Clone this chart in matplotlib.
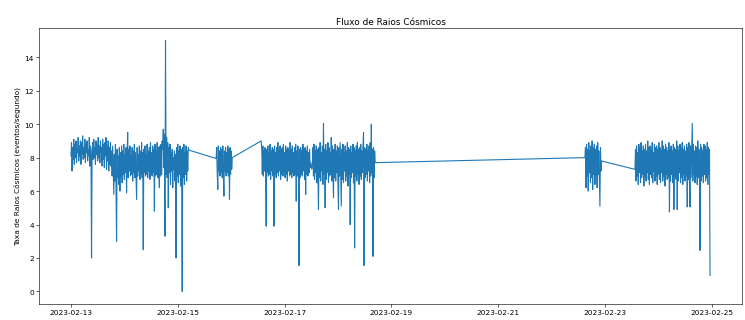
import matplotlib
matplotlib.use("Agg")
import matplotlib.pyplot as plt
import matplotlib.dates as mdates
import pandas as pd

# Detector sampling step and the start of each recording run
sample_step = "15min"
run_starts = [
    "2023-02-13 00:00",
    "2023-02-15 17:15",
    "2023-02-16 13:30",
    "2023-02-22 15:00",
    "2023-02-23 13:30",
]

# Count rates (events/second) for each run, one value per sample
rate_run1 = [
    8.1, 8.9, 7.2, 8.6, 7.9, 9.1, 7.6, 8.8, 8.0, 9.0, 7.7, 8.5, 8.3, 9.2, 7.8, 8.7, 8.1, 9.0, 7.6, 8.9,
    8.2, 9.3, 7.9, 8.6, 8.0, 9.1, 7.7, 8.8, 8.3, 9.0, 7.8, 8.5, 8.1, 9.2, 7.5, 8.7, 8.4, 2.0, 8.2, 8.9,
    7.9, 9.1, 8.0, 8.6, 7.6, 9.0, 8.2, 8.8, 7.8, 9.2, 8.0, 8.7, 7.7, 9.0, 8.3, 8.6, 7.5, 9.1, 7.9, 8.8,
    7.4, 8.9, 8.1, 9.2, 7.3, 8.7, 7.8, 9.0, 7.2, 8.6, 7.6, 8.9, 7.5,
    8.4, 6.9, 8.7, 7.1, 5.8, 8.2, 6.6, 8.8, 6.2, 3.0, 8.5, 6.8, 8.1, 6.4, 8.6, 6.0, 8.3, 6.9, 8.7, 6.5,
    8.4, 7.0, 8.8, 6.7, 8.2, 7.1, 8.6, 5.9, 8.3, 9.5, 6.8, 8.5, 7.2, 8.7, 6.9, 8.1, 7.0, 8.6, 6.6, 8.4,
    7.1, 8.8, 6.8, 8.3, 7.0, 5.5, 8.6, 6.9, 8.2, 7.2, 8.7, 6.7, 8.4, 7.0, 8.9, 6.8, 8.3, 2.5, 8.5, 7.1,
    8.7, 6.9, 8.2, 7.0, 8.8, 6.8, 8.4, 7.2, 8.6, 6.7, 8.9, 7.0, 8.3, 6.9, 8.7, 7.1, 8.5, 4.8, 8.8, 6.9,
    8.4, 7.0, 8.9, 6.8, 8.6, 7.1, 6.2, 8.7, 6.9, 8.8, 7.0, 9.0,
    8.5, 9.7, 7.4, 9.4, 3.3, 15.0, 7.0, 9.2, 6.8, 8.9, 5.0, 8.6, 7.1, 8.8, 6.4, 8.3, 7.2, 8.5, 6.2, 8.0,
    7.3, 8.4, 6.6, 8.2, 2.0, 8.6, 6.9, 8.8, 6.5, 8.4, 7.0, 8.7, 6.3, 8.5, 7.1, 0.0, 8.6, 6.8, 8.8, 6.4,
    8.3, 7.0, 8.7, 6.6, 8.4, 7.2, 8.6, 8.45,
]

rate_run2 = [
    7.95, 8.6, 7.0, 6.1, 8.7, 7.2, 8.4, 6.9, 8.6, 7.1, 8.5, 6.8, 8.7, 7.0, 5.7, 8.4, 7.2, 8.6, 6.9, 8.3,
    7.1, 8.7, 6.9, 8.5, 5.5, 8.6, 7.0, 8.4, 7.3, 8.0,
]

rate_run3 = [
    9.0, 8.5, 7.0, 8.7, 6.9, 8.4, 7.2, 8.6, 6.8, 3.9, 8.5, 7.1, 8.7, 6.9, 8.3, 7.0, 8.8, 6.7, 8.4, 7.2,
    8.6, 6.9, 8.5, 3.9, 8.7, 7.0, 8.3, 6.8, 8.6, 7.1, 8.9, 6.9, 8.4, 7.2, 8.7, 6.7, 8.5, 7.0, 8.6, 6.9,
    8.8, 7.1, 8.3, 6.8, 8.7, 7.0, 8.5, 6.6, 8.6, 7.2, 8.4, 6.9, 8.9, 7.0, 8.5, 6.8, 8.7, 7.1, 8.3, 6.9,
    8.6, 7.0, 8.8, 5.4, 8.4, 6.9, 8.7, 7.1, 1.55, 8.5, 6.8, 8.6, 7.0, 8.4, 6.9, 8.8, 7.2, 8.5, 6.7, 8.6,
    5.8, 8.4, 7.0, 8.7, 6.9, 8.3, 7.1, 8.5, 7.4,
    7.7, 7.5, 7.3, 7.6,
    8.6, 6.9, 8.8, 6.7, 8.4, 7.1, 8.7, 6.5, 8.5, 7.0, 4.9, 8.6, 6.8, 8.9, 6.6, 8.3, 7.2, 8.7, 6.4, 10.05,
    7.0, 8.5, 5.0, 8.8, 6.7, 8.4, 7.1, 8.9, 6.5, 8.6, 6.9, 8.3, 7.0, 9.2, 6.6, 8.7, 7.2, 5.6, 8.5, 6.8,
    8.8, 6.6, 8.4, 7.1, 8.7, 6.4, 4.9, 8.6, 6.9, 8.9, 7.0, 5.1, 8.5, 6.7, 8.8, 6.5, 8.3, 7.2, 8.7, 6.6,
    8.4, 6.9, 8.9, 6.3, 8.6, 7.0, 8.5, 4.0, 8.7, 6.8, 8.3, 7.1, 8.8, 6.5, 8.6, 2.6, 8.4, 6.9, 8.7, 6.6,
    8.9, 7.0, 8.5, 6.4, 8.6, 6.9, 8.8, 6.7, 8.4, 7.1, 8.7, 9.5, 1.55, 8.6, 6.8, 8.5, 7.0, 8.8, 6.6, 8.4,
    7.2, 8.7, 6.5, 8.9, 6.9, 10.0, 7.1, 8.5, 2.1, 8.6, 6.8, 8.4, 7.7,
]

rate_run4 = [
    8.0, 8.6, 6.2, 8.8, 6.9, 8.5, 6.0, 8.9, 7.1, 8.4, 6.5, 8.7, 6.8, 9.0, 6.1, 8.6, 7.0, 8.8, 6.4, 8.5,
    6.9, 8.7, 6.2, 8.9, 7.0, 8.4, 6.6, 5.1, 8.6, 7.2, 7.8,
]

rate_run5 = [
    7.3, 8.5, 6.6, 8.7, 6.9, 8.3, 6.4, 8.8, 7.1, 8.6, 6.5, 8.9, 6.8, 8.4, 7.0, 8.7, 6.3, 8.5, 6.9, 8.8,
    6.6, 8.4, 7.1, 9.0, 6.7, 8.6, 6.4, 8.7, 7.0, 8.5, 6.8, 8.9, 6.5, 8.3, 7.2, 8.8, 6.6, 8.6, 6.9, 8.7,
    6.4, 8.5, 7.0, 8.9, 6.7, 8.6, 6.5, 8.4, 7.1, 9.0, 6.6, 8.7, 6.9, 8.5, 6.3, 8.8, 7.0, 8.6, 6.7, 8.4,
    6.8, 8.9, 4.75, 8.5, 6.6, 8.7, 7.0, 8.4, 6.5, 8.8, 4.9, 8.6, 6.9, 8.5, 6.7, 9.0, 4.9, 8.7, 6.6, 8.4,
    7.1, 8.8, 6.5, 8.6, 6.8, 8.9, 6.4, 8.5, 7.0, 8.7, 6.6, 8.4, 6.9, 8.8, 5.05, 8.6, 6.7, 8.9, 6.5, 5.05,
    8.7, 6.8, 8.5, 10.05, 6.6, 8.8, 7.0, 8.4, 6.5, 8.7, 6.9, 8.6, 6.4, 9.0, 6.8, 8.5, 6.7, 2.45, 8.8, 6.6,
    8.6, 6.9, 8.4, 6.5, 8.8, 7.0, 8.7, 6.6, 8.5, 6.8, 8.9, 6.4, 8.6, 7.0, 8.5, 0.95,
]

tick_labels = ["2023-02-13", "2023-02-15", "2023-02-17", "2023-02-19",
               "2023-02-21", "2023-02-23", "2023-02-25"]

title_text = "Fluxo de Raios Cósmicos"
ylabel_text = "Taxa de Raios Cósmicos (eventos/segundo)"

# Assemble one continuous series from the individual runs
runs = [rate_run1, rate_run2, rate_run3, rate_run4, rate_run5]
frames = []
for start, vals in zip(run_starts, runs):
    idx = pd.date_range(start=start, periods=len(vals), freq=sample_step)
    frames.append(pd.Series(vals, index=idx))
series = pd.concat(frames)

fig = plt.figure(figsize=(14, 6.032), dpi=745 / 14)
ax = fig.add_subplot(111)
fig.subplots_adjust(left=39 / 745, right=742 / 745, bottom=1 - 305 / 321, top=1 - 29 / 321)

ax.plot(series.index, series.values, color="#1f77b4", linewidth=1.5)

ax.set_title(title_text)
ax.set_ylabel(ylabel_text)

ax.xaxis.set_major_locator(mdates.DayLocator(bymonthday=[13, 15, 17, 19, 21, 23, 25]))
ax.xaxis.set_major_formatter(mdates.DateFormatter("%Y-%m-%d"))
ax.set_xticks(pd.to_datetime(tick_labels))
ax.set_xticklabels(tick_labels)

fig.savefig("out.png", dpi=745 / 14)
